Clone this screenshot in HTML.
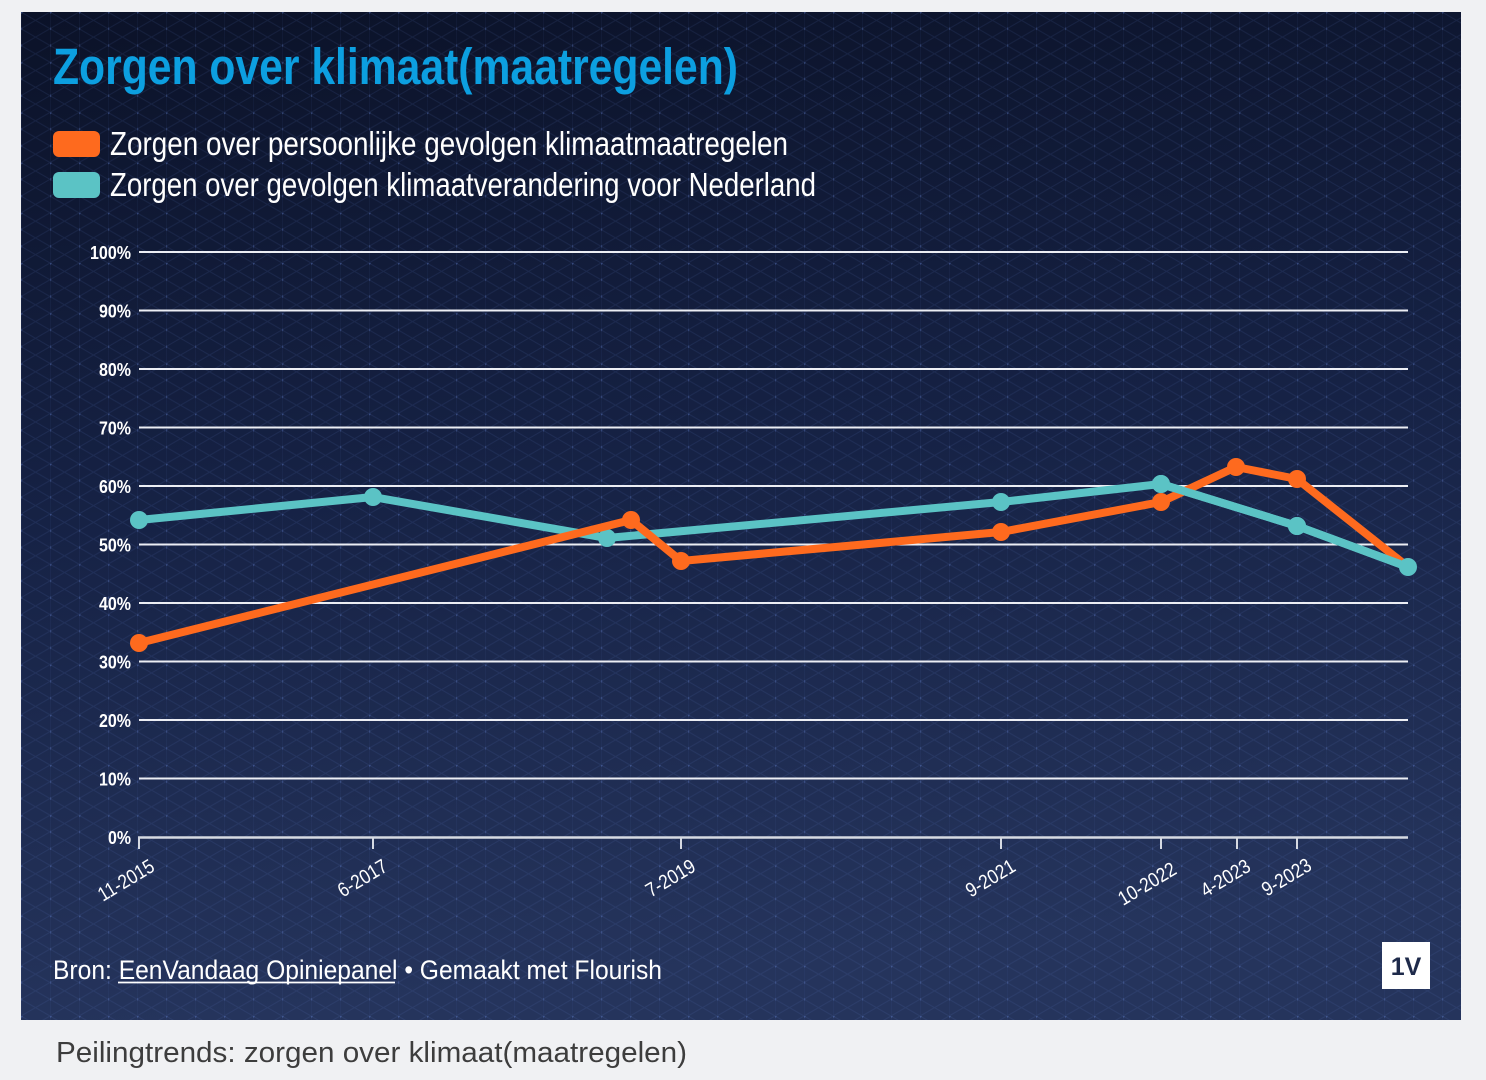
<!DOCTYPE html>
<html><head><meta charset="utf-8"><style>
html,body{margin:0;padding:0;background:#f0f1f3;}
svg{display:block;}
</style></head><body>
<svg width="1486" height="1080" viewBox="0 0 1486 1080" xmlns="http://www.w3.org/2000/svg">
<defs>
<linearGradient id="bg" x1="0" y1="0" x2="0.15" y2="1">
<stop offset="0" stop-color="#0b1228"/>
<stop offset="0.5" stop-color="#162245"/>
<stop offset="1" stop-color="#25345c"/>
</linearGradient>
<pattern id="grid" x="21" y="12" width="29" height="50.2" patternUnits="userSpaceOnUse">
<path d="M0 0V50.2M0 0L29 16.75M0 16.75L29 33.5M0 33.5L29 50.2M0 16.75L29 0M0 33.5L29 16.75M0 50.2L29 33.5" stroke="#5a78c8" stroke-opacity="0.13" stroke-width="1" fill="none"/>
<circle cx="0" cy="0" r="1.7" fill="#6a88d8" fill-opacity="0.35"/>
<circle cx="0" cy="16.75" r="1.3" fill="#6a88d8" fill-opacity="0.28"/>
<circle cx="0" cy="33.5" r="1.3" fill="#6a88d8" fill-opacity="0.28"/>
</pattern>
</defs>
<rect x="0" y="0" width="1486" height="1080" fill="#f0f1f3"/>
<rect x="21" y="12" width="1440" height="1008" fill="url(#bg)"/>
<rect x="21" y="12" width="1440" height="1008" fill="url(#grid)"/>

<g font-family="'Liberation Sans',sans-serif">
<text x="53" y="84" font-size="51" font-weight="bold" fill="#0c9fe0" textLength="685" lengthAdjust="spacingAndGlyphs">Zorgen over klimaat(maatregelen)</text>

<rect x="53" y="131" width="47" height="26" rx="6" fill="#fe6a1e"/>
<text x="110" y="155" font-size="33" fill="#ffffff" textLength="678" lengthAdjust="spacingAndGlyphs">Zorgen over persoonlijke gevolgen klimaatmaatregelen</text>
<rect x="53" y="172" width="47" height="26" rx="6" fill="#5bc3c5"/>
<text x="110" y="196" font-size="33" fill="#ffffff" textLength="706" lengthAdjust="spacingAndGlyphs">Zorgen over gevolgen klimaatverandering voor Nederland</text>

<!-- gridlines -->
<g stroke="#eceef4" stroke-width="2">
<line x1="139" x2="1408" y1="252" y2="252"/>
<line x1="139" x2="1408" y1="310.5" y2="310.5"/>
<line x1="139" x2="1408" y1="369" y2="369"/>
<line x1="139" x2="1408" y1="427.5" y2="427.5"/>
<line x1="139" x2="1408" y1="486" y2="486"/>
<line x1="139" x2="1408" y1="544.5" y2="544.5"/>
<line x1="139" x2="1408" y1="603" y2="603"/>
<line x1="139" x2="1408" y1="661.5" y2="661.5"/>
<line x1="139" x2="1408" y1="720" y2="720"/>
<line x1="139" x2="1408" y1="778.5" y2="778.5"/>
</g>
<line x1="138" x2="1408" y1="837.5" y2="837.5" stroke="#d6dae2" stroke-width="2.5"/>
<g stroke="#d6dae2" stroke-width="2">
<line x1="139" x2="139" y1="837" y2="849"/>
<line x1="373" x2="373" y1="837" y2="849"/>
<line x1="681" x2="681" y1="837" y2="849"/>
<line x1="1001" x2="1001" y1="837" y2="849"/>
<line x1="1161" x2="1161" y1="837" y2="849"/>
<line x1="1237" x2="1237" y1="837" y2="849"/>
<line x1="1297" x2="1297" y1="837" y2="849"/>
</g>

<g font-size="18" font-weight="bold" fill="#ffffff" text-anchor="end">
<text x="131" y="259" textLength="41" lengthAdjust="spacingAndGlyphs">100%</text>
<text x="131" y="317.5" textLength="32" lengthAdjust="spacingAndGlyphs">90%</text>
<text x="131" y="376" textLength="32" lengthAdjust="spacingAndGlyphs">80%</text>
<text x="131" y="434.5" textLength="32" lengthAdjust="spacingAndGlyphs">70%</text>
<text x="131" y="493" textLength="32" lengthAdjust="spacingAndGlyphs">60%</text>
<text x="131" y="551.5" textLength="32" lengthAdjust="spacingAndGlyphs">50%</text>
<text x="131" y="610" textLength="32" lengthAdjust="spacingAndGlyphs">40%</text>
<text x="131" y="668.5" textLength="32" lengthAdjust="spacingAndGlyphs">30%</text>
<text x="131" y="727" textLength="32" lengthAdjust="spacingAndGlyphs">20%</text>
<text x="131" y="785.5" textLength="32" lengthAdjust="spacingAndGlyphs">10%</text>
<text x="131" y="844" textLength="23" lengthAdjust="spacingAndGlyphs">0%</text>
</g>

<g font-size="20" fill="#ffffff" text-anchor="end">
<text transform="translate(156,870) rotate(-31)" textLength="62" lengthAdjust="spacingAndGlyphs">11-2015</text>
<text transform="translate(389,870) rotate(-31)" textLength="54" lengthAdjust="spacingAndGlyphs">6-2017</text>
<text transform="translate(697,870) rotate(-31)" textLength="54" lengthAdjust="spacingAndGlyphs">7-2019</text>
<text transform="translate(1017,870) rotate(-31)" textLength="54" lengthAdjust="spacingAndGlyphs">9-2021</text>
<text transform="translate(1178,873) rotate(-31)" textLength="64" lengthAdjust="spacingAndGlyphs">10-2022</text>
<text transform="translate(1252,870) rotate(-31)" textLength="54" lengthAdjust="spacingAndGlyphs">4-2023</text>
<text transform="translate(1313,869) rotate(-31)" textLength="54" lengthAdjust="spacingAndGlyphs">9-2023</text>
</g>

<!-- teal series -->
<g fill="#5bc3c5">
<polyline points="139,520 373,497 607,538 1001,502 1161,484 1297,526 1408,567" fill="none" stroke="#5bc3c5" stroke-width="8" stroke-linejoin="round"/>
<circle cx="139" cy="520" r="9"/>
<circle cx="373" cy="497" r="9"/>
<circle cx="607" cy="538" r="9"/>
<circle cx="1001" cy="502" r="9"/>
<circle cx="1161" cy="484" r="9"/>
<circle cx="1297" cy="526" r="9"/>
</g>
<!-- orange series -->
<g fill="#fe6a1e">
<polyline points="139,643 631,520 681,561 1001,532 1161,502 1236,467 1297,479 1408,567" fill="none" stroke="#fe6a1e" stroke-width="8" stroke-linejoin="round"/>
<circle cx="139" cy="643" r="9"/>
<circle cx="631" cy="520" r="9"/>
<circle cx="681" cy="561" r="9"/>
<circle cx="1001" cy="532" r="9"/>
<circle cx="1161" cy="502" r="9"/>
<circle cx="1236" cy="467" r="9"/>
<circle cx="1297" cy="479" r="9"/>
</g>
<polyline points="1161,484 1297,526 1408,567" fill="none" stroke="#5bc3c5" stroke-width="8" stroke-linejoin="round"/>
<circle cx="1161" cy="484" r="9" fill="#5bc3c5"/>
<circle cx="1297" cy="526" r="9" fill="#5bc3c5"/>
<circle cx="1408" cy="567" r="9" fill="#5bc3c5"/>

<text x="53" y="979" font-size="27" fill="#ffffff" textLength="609" lengthAdjust="spacingAndGlyphs">Bron: EenVandaag Opiniepanel • Gemaakt met Flourish</text>
<line x1="118" x2="395" y1="982.5" y2="982.5" stroke="#ffffff" stroke-width="1.8"/>

<rect x="1382" y="942" width="48" height="47" fill="#ffffff"/>
<text x="1406" y="975" font-size="25" font-weight="bold" fill="#1e2a4a" text-anchor="middle">1V</text>
</g>

<text x="56" y="1062" font-size="29" fill="#3d3d3d" font-family="'Liberation Sans',sans-serif" textLength="631" lengthAdjust="spacingAndGlyphs">Peilingtrends: zorgen over klimaat(maatregelen)</text>
</svg>
</body></html>
